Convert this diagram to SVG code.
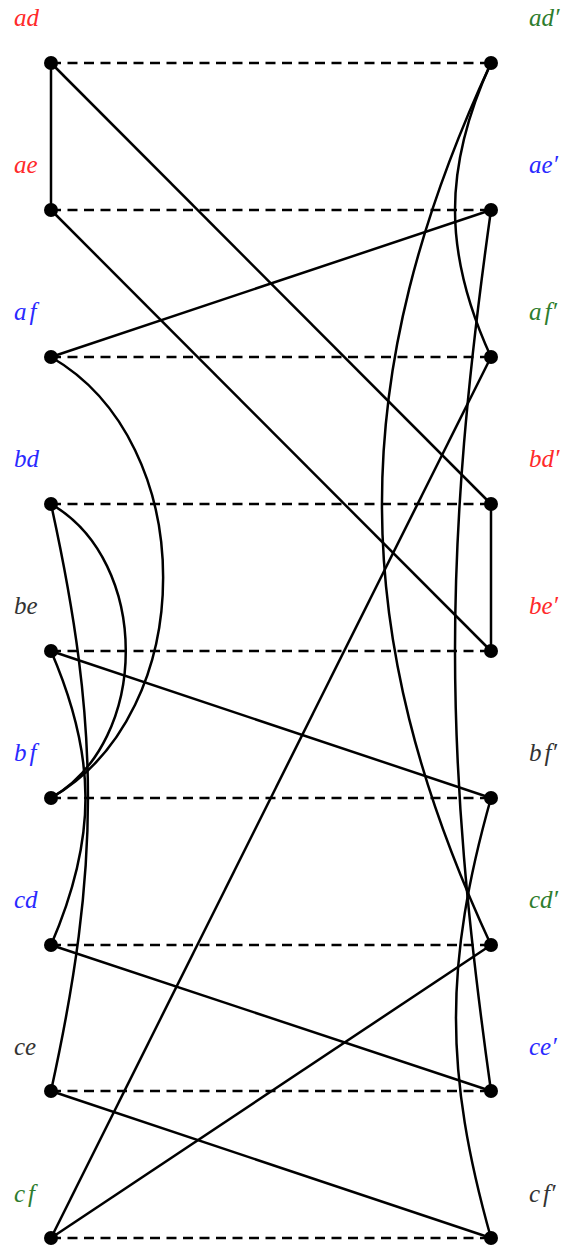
<svg xmlns="http://www.w3.org/2000/svg" width="574" height="1249" viewBox="0 0 574 1249">
<style>
.e{fill:none;stroke:#000;stroke-width:2.5}
.d{fill:none;stroke:#000;stroke-width:2.5;stroke-dasharray:10 6.5}
.n{fill:#000}
.t{font-family:"Liberation Serif",serif;font-style:italic;font-size:25px}
.r{fill:#ff2a2a}.g{fill:#2e7d2e}.b{fill:#2a2aff}.k{fill:#333}
</style>
<rect width="574" height="1249" fill="#fff"/>
<g id="connectors">
<line class="d" x1="51" y1="63" x2="491" y2="63"/>
<line class="d" x1="51" y1="210" x2="491" y2="210"/>
<line class="d" x1="51" y1="357" x2="491" y2="357"/>
<line class="d" x1="51" y1="504" x2="491" y2="504"/>
<line class="d" x1="51" y1="651" x2="491" y2="651"/>
<line class="d" x1="51" y1="798" x2="491" y2="798"/>
<line class="d" x1="51" y1="945" x2="491" y2="945"/>
<line class="d" x1="51" y1="1091" x2="491" y2="1091"/>
<line class="d" x1="51" y1="1238" x2="491" y2="1238"/>
<line class="e" x1="51" y1="63" x2="51" y2="210"/>
<line class="e" x1="51" y1="63" x2="491" y2="504"/>
<line class="e" x1="51" y1="210" x2="491" y2="651"/>
<line class="e" x1="51" y1="357" x2="491" y2="210"/>
<line class="e" x1="51" y1="651" x2="491" y2="798"/>
<line class="e" x1="51" y1="945" x2="491" y2="1091"/>
<line class="e" x1="51" y1="1091" x2="491" y2="1238"/>
<line class="e" x1="51" y1="1238" x2="491" y2="357"/>
<line class="e" x1="51" y1="1238" x2="491" y2="945"/>
<line class="e" x1="491" y1="504" x2="491" y2="651"/>
<path class="e" d="M51,357 C200.5,443.3 200.5,711.7 51,798"/>
<path class="e" d="M51,504 C150.7,561.5 150.7,740.5 51,798"/>
<path class="e" d="M51,504 C100.3,728.5 100.3,866.5 51,1091"/>
<path class="e" d="M51,651 C97,757.3 97,838.7 51,945"/>
<path class="e" d="M491,63 C443,167.6 443,252.4 491,357"/>
<path class="e" d="M491,63 C345.6,376.2 345.6,631.8 491,945"/>
<path class="e" d="M491,210 C443,551.5 443,749.5 491,1091"/>
<path class="e" d="M491,798 C444.3,963.9 444.3,1072.1 491,1238"/>
</g>
<g id="ad"><circle class="n" cx="51" cy="63" r="7"/><text class="t r" x="14" y="26">ad</text></g>
<g id="ae"><circle class="n" cx="51" cy="210" r="7"/><text class="t r" x="14" y="173">ae</text></g>
<g id="af"><circle class="n" cx="51" cy="357" r="7"/><text class="t b" x="14" y="320">a<tspan dx="3">f</tspan></text></g>
<g id="bd"><circle class="n" cx="51" cy="504" r="7"/><text class="t b" x="14" y="467">bd</text></g>
<g id="be"><circle class="n" cx="51" cy="651" r="7"/><text class="t k" x="14" y="614">be</text></g>
<g id="bf"><circle class="n" cx="51" cy="798" r="7"/><text class="t b" x="14" y="761">b<tspan dx="3">f</tspan></text></g>
<g id="cd"><circle class="n" cx="51" cy="945" r="7"/><text class="t b" x="14" y="908">cd</text></g>
<g id="ce"><circle class="n" cx="51" cy="1091" r="7"/><text class="t k" x="14" y="1055">ce</text></g>
<g id="cf"><circle class="n" cx="51" cy="1238" r="7"/><text class="t g" x="14" y="1202">c<tspan dx="3">f</tspan></text></g>
<g id="adp"><circle class="n" cx="491" cy="63" r="7"/><text class="t g" x="529" y="26">ad′</text></g>
<g id="aep"><circle class="n" cx="491" cy="210" r="7"/><text class="t b" x="529" y="173">ae′</text></g>
<g id="afp"><circle class="n" cx="491" cy="357" r="7"/><text class="t g" x="529" y="320">a<tspan dx="3">f′</tspan></text></g>
<g id="bdp"><circle class="n" cx="491" cy="504" r="7"/><text class="t r" x="529" y="467">bd′</text></g>
<g id="bep"><circle class="n" cx="491" cy="651" r="7"/><text class="t r" x="529" y="614">be′</text></g>
<g id="bfp"><circle class="n" cx="491" cy="798" r="7"/><text class="t k" x="529" y="761">b<tspan dx="3">f′</tspan></text></g>
<g id="cdp"><circle class="n" cx="491" cy="945" r="7"/><text class="t g" x="529" y="908">cd′</text></g>
<g id="cep"><circle class="n" cx="491" cy="1091" r="7"/><text class="t b" x="529" y="1055">ce′</text></g>
<g id="cfp"><circle class="n" cx="491" cy="1238" r="7"/><text class="t k" x="529" y="1202">c<tspan dx="3">f′</tspan></text></g>
</svg>
